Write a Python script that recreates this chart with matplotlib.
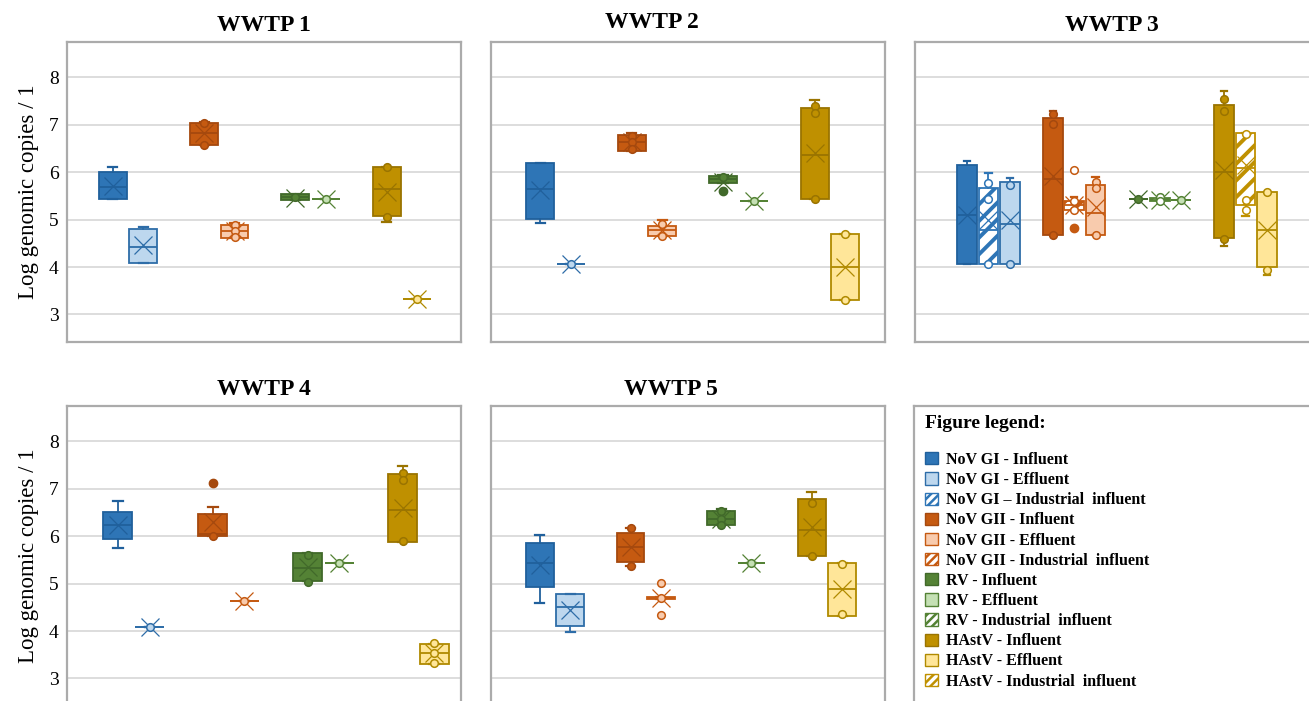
import matplotlib as mpl
import matplotlib.pyplot as plt
from matplotlib.patches import Patch

mpl.rcParams["font.family"] = ["Liberation Serif", "DejaVu Serif"]
mpl.rcParams["hatch.linewidth"] = 2.8

# series: legend labels and styles
LABELS = [
    "NoV GI - Influent", "NoV GI - Effluent", "NoV GI \u2013 Industrial  influent",
    "NoV GII - Influent", "NoV GII - Effluent", "NoV GII - Industrial  influent",
    "RV - Influent", "RV - Effluent", "RV - Industrial  influent",
    "HAstV - Influent", "HAstV - Effluent", "HAstV - Industrial  influent",
]
FILLS = ["#2E75B6", "#BDD7EE", "white",
         "#C55A11", "#F8CBAD", "white",
         "#548235", "#C5E0B4", "white",
         "#BF9000", "#FFE699", "white"]
EDGES = ["#20609C", "#2E6DA8", "#2E75B6",
         "#A5490E", "#C55A11", "#C55A11",
         "#41692A", "#548235", "#548235",
         "#9A7400", "#B08A00", "#BF9000"]
HATCHES = ["", "", "//", "", "", "//", "", "", "//", "", "", "//"]

# order of series inside each panel (indices into LABELS)
PAIR = [0, 1, 3, 4, 6, 7, 9, 10]
TRIO = [0, 2, 1, 3, 5, 4, 6, 8, 7, 9, 11, 10]

# WWTP 1
W1_Q1 = [5.43, 4.08, 6.57, 4.62, 5.41, 5.43, 5.08, 3.32]
W1_MED = [5.68, 4.43, 6.83, 4.76, 5.47, 5.43, 5.64, 3.32]
W1_Q3 = [6.00, 4.81, 7.03, 4.88, 5.54, 5.43, 6.10, 3.32]
W1_LO = [5.43, 4.08, 6.57, 4.62, 5.41, 5.43, 4.95, 3.32]
W1_HI = [6.10, 4.84, 7.05, 4.93, 5.54, 5.43, 6.10, 3.32]
W1_MEAN = [5.71, 4.46, 6.82, 4.76, 5.46, 5.43, 5.57, 3.32]
W1_PTS = [[], [], [7.04, 6.57], [4.88, 4.76, 4.63], [5.48], [5.43], [6.10, 5.05], [3.32]]
W1_OUT = [[], [], [], [], [], [], [], []]

# WWTP 2
W2_Q1 = [5.02, 4.07, 6.44, 4.65, 5.78, 5.40, 5.44, 3.31]
W2_MED = [5.65, 4.07, 6.63, 4.77, 5.85, 5.40, 6.35, 4.00]
W2_Q3 = [6.20, 4.07, 6.79, 4.86, 5.91, 5.40, 7.35, 4.69]
W2_LO = [4.93, 4.07, 6.44, 4.65, 5.78, 5.40, 5.44, 3.31]
W2_HI = [6.20, 4.07, 6.83, 5.00, 5.93, 5.40, 7.52, 4.69]
W2_MEAN = [5.63, 4.07, 6.63, 4.77, 5.80, 5.40, 6.40, 4.00]
W2_PTS = [[], [4.07], [6.77, 6.63, 6.48], [4.90, 4.65], [5.90], [5.40], [7.40, 7.25, 5.44], [4.69, 3.31]]
W2_OUT = [[], [], [], [], [5.61], [], [], []]

# WWTP 3
W3_Q1 = [4.06, 4.06, 4.06, 4.67, 5.21, 4.67, 5.44, 5.39, 5.41, 4.62, 5.30, 4.01]
W3_MED = [5.09, 4.77, 4.90, 5.85, 5.30, 5.14, 5.44, 5.42, 5.41, 6.01, 6.08, 4.79]
W3_Q3 = [6.15, 5.66, 5.79, 7.14, 5.38, 5.72, 5.44, 5.45, 5.41, 7.42, 6.83, 5.59]
W3_LO = [4.06, 4.06, 4.06, 4.67, 5.21, 4.67, 5.44, 5.39, 5.41, 4.45, 5.07, 3.83]
W3_HI = [6.24, 5.97, 5.88, 7.29, 5.47, 5.89, 5.44, 5.45, 5.41, 7.70, 6.83, 5.59]
W3_MEAN = [5.10, 4.98, 5.00, 5.92, 5.30, 5.26, 5.44, 5.42, 5.41, 6.04, 6.15, 4.77]
W3_PTS = [[], [5.78, 5.44, 4.06], [5.73, 4.06], [7.22, 7.01, 4.67], [6.04, 5.38, 5.21],
          [5.80, 5.66, 4.67], [5.44], [5.47, 5.39], [5.41], [7.54, 7.29, 4.60],
          [6.81, 5.42, 5.21], [5.59, 3.94]]
W3_OUT = [[], [], [], [], [4.83], [], [], [], [], [], [], []]

# WWTP 4
W4_Q1 = [5.94, 4.08, 6.01, 4.63, 5.05, 5.43, 5.87, 3.31]
W4_MED = [6.23, 4.08, 6.04, 4.63, 5.33, 5.43, 6.55, 3.53]
W4_Q3 = [6.50, 4.08, 6.47, 4.63, 5.65, 5.43, 7.30, 3.73]
W4_LO = [5.74, 4.08, 6.01, 4.63, 5.05, 5.43, 5.87, 3.31]
W4_HI = [6.74, 4.08, 6.61, 4.63, 5.65, 5.43, 7.47, 3.73]
W4_MEAN = [6.24, 4.08, 6.29, 4.63, 5.35, 5.43, 6.60, 3.53]
W4_PTS = [[], [4.08], [6.01], [4.63], [5.61, 5.03], [5.43], [7.33, 7.19, 5.89], [3.75, 3.53, 3.32]]
W4_OUT = [[], [], [7.12], [], [], [], [], []]

# WWTP 5
W5_Q1 = [4.93, 4.11, 5.46, 4.68, 6.23, 5.43, 5.57, 4.31]
W5_MED = [5.43, 4.51, 5.78, 4.70, 6.37, 5.43, 6.13, 4.88]
W5_Q3 = [5.85, 4.77, 6.06, 4.72, 6.52, 5.43, 6.78, 5.43]
W5_LO = [4.59, 3.97, 5.36, 4.68, 6.23, 5.43, 5.57, 4.31]
W5_HI = [6.03, 4.77, 6.16, 4.72, 6.58, 5.43, 6.92, 5.43]
W5_MEAN = [5.38, 4.44, 5.78, 4.70, 6.37, 5.43, 6.19, 4.88]
W5_PTS = [[], [], [6.16, 5.36], [5.02, 4.70, 4.33], [6.52, 6.37, 6.23], [5.43], [6.69, 5.57], [5.41, 4.36]]
W5_OUT = [[], [], [], [], [], [], [], []]

YTICKS = [3, 4, 5, 6, 7, 8]

W, H = 1309, 701
fig = plt.figure(figsize=(W / 100, H / 100), dpi=100)


def box_px(x0, y0, x1, y1):
    return [x0 / W, 1 - y1 / H, (x1 - x0) / W, (y1 - y0) / H]


panels = [
    # title, pixel box, xlim, title x, title pad, order, per group, stats...
    ("WWTP 1", (67, 42, 461, 342), (-1.51, 11.45), 0.5, 8, PAIR, 2,
     W1_Q1, W1_MED, W1_Q3, W1_LO, W1_HI, W1_MEAN, W1_PTS, W1_OUT),
    ("WWTP 2", (491, 42, 885, 342), (-1.61, 11.31), 0.409, 10, PAIR, 2,
     W2_Q1, W2_MED, W2_Q3, W2_LO, W2_HI, W2_MEAN, W2_PTS, W2_OUT),
    ("WWTP 3", (915, 42, 1319, 342), (-2.43, 16.43), 0.487, 8, TRIO, 3,
     W3_Q1, W3_MED, W3_Q3, W3_LO, W3_HI, W3_MEAN, W3_PTS, W3_OUT),
    ("WWTP 4", (67, 406, 461, 706), (-1.61, 10.85), 0.5, 8, PAIR, 2,
     W4_Q1, W4_MED, W4_Q3, W4_LO, W4_HI, W4_MEAN, W4_PTS, W4_OUT),
    ("WWTP 5", (491, 406, 885, 706), (-1.62, 11.42), 0.456, 8, PAIR, 2,
     W5_Q1, W5_MED, W5_Q3, W5_LO, W5_HI, W5_MEAN, W5_PTS, W5_OUT),
]

grid_c = "#DADADA"
frame_c = "#ABABAB"

for (title, pbox, xl, tx, tpad, order, n, q1, med, q3, lo, hi, mean, pts, out) in panels:
    ax = fig.add_axes(box_px(*pbox))
    pos = [i // n * (n + 1) + i % n for i in range(len(order))]
    for k, s in enumerate(order):
        stats = [dict(q1=q1[k], med=med[k], q3=q3[k], whislo=lo[k], whishi=hi[k],
                      mean=mean[k], fliers=out[k])]
        art = ax.bxp(stats, positions=[pos[k]], widths=0.92, capwidths=0.3,
                     patch_artist=True, showmeans=True, manage_ticks=False,
                     boxprops=dict(facecolor=FILLS[s], edgecolor=EDGES[s], linewidth=1.3,
                                   hatch=HATCHES[s]),
                     medianprops=dict(color=EDGES[s], linewidth=1.3),
                     whiskerprops=dict(color=EDGES[s], linewidth=1.3),
                     capprops=dict(color=EDGES[s], linewidth=1.6),
                     meanprops=dict(marker="x", markeredgecolor=EDGES[s], markersize=12.5,
                                    markeredgewidth=0.9, zorder=4),
                     flierprops=dict(marker="o", markerfacecolor=EDGES[s],
                                     markeredgecolor=EDGES[s], markersize=6))
        if HATCHES[s] and hasattr(art["boxes"][0], "set_hatch_linewidth"):
            art["boxes"][0].set_hatch_linewidth(2.8)
        if pts[k]:
            ax.plot([pos[k]] * len(pts[k]), pts[k], "o", ms=5.5, mfc=FILLS[s],
                    mec=EDGES[s], mew=1.1, zorder=5)

    ax.set_xlim(*xl)
    ax.set_ylim(2.42, 8.74)
    ax.set_yticks(YTICKS)
    ax.set_xticks([])
    ax.grid(axis="y", color=grid_c, linewidth=1.3)
    ax.set_axisbelow(True)
    for sp in ax.spines.values():
        sp.set_color(frame_c)
        sp.set_linewidth(1.6)
    ax.tick_params(axis="y", length=0, labelsize=14, pad=6)
    ax.set_title(title, fontsize=17, fontweight="bold", x=tx, pad=tpad)
    if pbox[0] == 67:
        ax.set_ylabel("Log genomic copies / 1", fontsize=16.5, labelpad=7)
    else:
        ax.tick_params(axis="y", labelleft=False)

# legend panel
lax = fig.add_axes(box_px(914, 406, 1319, 706))
lax.set_xticks([])
lax.set_yticks([])
for sp in lax.spines.values():
    sp.set_color(frame_c)
    sp.set_linewidth(1.6)
lax.text(0.027, 0.94, "Figure legend:", transform=lax.transAxes, fontsize=14,
         fontweight="bold", ha="left", va="center")

handles = [Patch(facecolor=FILLS[i], edgecolor=EDGES[i], hatch=HATCHES[i] * 2, linewidth=1)
           for i in range(len(LABELS))]
leg = lax.legend(handles, LABELS, loc="upper left", bbox_to_anchor=(0.027, 0.847),
                 frameon=False, prop=dict(weight="bold", size=11.5),
                 handlelength=0.8, handleheight=0.8, handletextpad=0.55,
                 labelspacing=0.26, borderpad=0, borderaxespad=0)
for p in leg.get_patches():
    if hasattr(p, "set_hatch_linewidth"):
        p.set_hatch_linewidth(1.8)

fig.savefig("out.png", dpi=100)
